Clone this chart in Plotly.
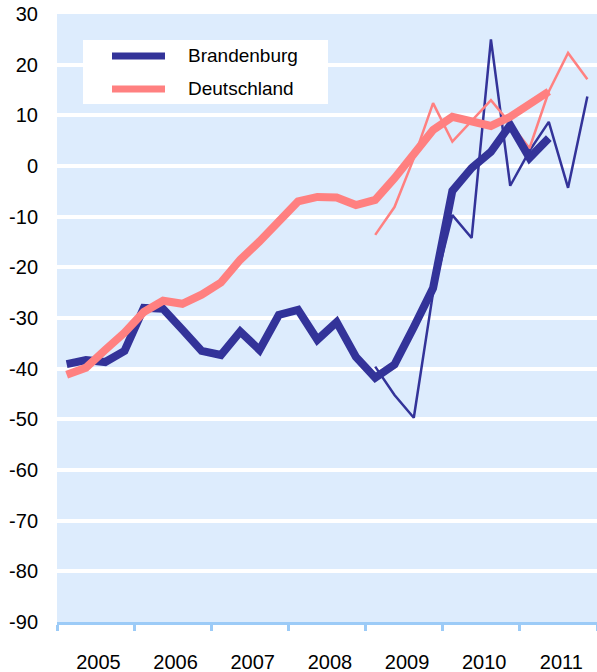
import plotly.graph_objects as go

# Quarterly data 2005Q1 .. 2011Q4 (28 quarters)
years = ["2005", "2006", "2007", "2008", "2009", "2010", "2011"]
quarters = list(range(28))
y_ticks = [-90, -80, -70, -60, -50, -40, -30, -20, -10, 0, 10, 20, 30]
y_tick_labels = ["-90", "-80", "-70", "-60", "-50", "-40", "-30", "-20", "-10",
                 "0", "10", "20", "30"]

brandenburg_trend = [-39.1, -38.3, -38.7, -36.5, -28.0, -28.2, -32.3, -36.5,
                     -37.3, -32.7, -36.3, -29.4, -28.4, -34.3, -30.8, -37.7,
                     -41.8, -39.2, -31.8, -24.1, -4.9, -0.4, 2.8, 8.1,
                     1.6, 5.5, None, None]
brandenburg_raw = [None] * 16 + [-39.6, -45.2, -49.7, -25.0, -9.7, -14.2, 25.0, -3.9,
                                 3.0, 8.7, -4.3, 13.7]
deutschland_trend = [-41.2, -39.8, -36.3, -32.9, -28.8, -26.6, -27.2, -25.4,
                     -23.0, -18.5, -14.9, -10.8, -7.0, -6.1, -6.2, -7.7,
                     -6.7, -2.4, 2.4, 7.1, 9.7, 8.7, 7.9, 9.7,
                     12.0, 14.7, None, None]
deutschland_raw = [None] * 16 + [-13.6, -8.1, 1.5, 12.4, 4.8, 8.8, 13.0, 8.4,
                                  3.5, 14.7, 22.3, 17.1]

series_names = ["Brandenburg", "Deutschland"]

BLUE = "#333399"
PINK = "#FF8080"
BG = "#DDECFD"
AXIS = "#9CCBF7"
FONT = "Liberation Sans, Arial, sans-serif"

fig = go.Figure()
fig.add_trace(go.Scatter(x=quarters, y=brandenburg_raw, mode="lines",
                         line=dict(color=BLUE, width=2.5), showlegend=False,
                         connectgaps=False, hoverinfo="skip"))
fig.add_trace(go.Scatter(x=quarters, y=deutschland_raw, mode="lines",
                         line=dict(color=PINK, width=2.5), showlegend=False,
                         connectgaps=False, hoverinfo="skip"))
fig.add_trace(go.Scatter(x=quarters, y=brandenburg_trend, mode="lines",
                         name=series_names[0],
                         line=dict(color=BLUE, width=8), showlegend=False))
fig.add_trace(go.Scatter(x=quarters, y=deutschland_trend, mode="lines",
                         name=series_names[1],
                         line=dict(color=PINK, width=8), showlegend=False))

year_centers = [4 * i + 1.5 + 0.15 for i in range(len(years))]

fig.update_layout(
    width=597, height=672,
    margin=dict(l=57, r=0, t=14, b=50),
    paper_bgcolor="white",
    plot_bgcolor=BG,
    font=dict(family=FONT, size=20, color="black"),
    xaxis=dict(
        range=[-0.5, 27.5], automargin=False,
        tickmode="array", tickvals=year_centers, ticktext=years,
        ticks="", showgrid=False, zeroline=False,
        showline=True, linecolor=AXIS, linewidth=3,
        tickfont=dict(family=FONT, size=20, color="black"),
        ticklabelstandoff=20,
        minor=dict(tickmode="linear", tick0=-0.5, dtick=4, ticks="outside",
                   ticklen=6, tickwidth=3, tickcolor=AXIS, showgrid=False),
        fixedrange=True,
    ),
    yaxis=dict(
        range=[-90, 30], automargin=False,
        tickmode="array", tickvals=y_ticks, ticktext=y_tick_labels,
        showgrid=True, gridcolor="white", gridwidth=4,
        zeroline=False, showline=False, ticks="",
        tickfont=dict(family=FONT, size=20, color="black"),
        ticklabelstandoff=18,
        fixedrange=True,
    ),
    showlegend=False,
)

# Legend box drawn manually (white box with line samples)
fig.add_shape(type="rect", xref="paper", yref="paper",
              x0=(83 - 57) / 540, x1=(328 - 57) / 540,
              y0=(622 - 104) / 608, y1=(622 - 40) / 608,
              fillcolor="white", line=dict(width=0), layer="above")
for name, color, ypix in [(series_names[0], BLUE, 56), (series_names[1], PINK, 89)]:
    yy = (622 - ypix) / 608
    fig.add_shape(type="line", xref="paper", yref="paper",
                  x0=(112 - 57) / 540, x1=(165 - 57) / 540, y0=yy, y1=yy,
                  line=dict(color=color, width=7), layer="above")
    fig.add_annotation(xref="paper", yref="paper", x=(186 - 57) / 540, y=yy,
                       text=name, showarrow=False, xanchor="left", yanchor="middle",
                       font=dict(family=FONT, size=19, color="black"))

fig.write_html(
    "out.html",
    config={"staticPlot": True},
    post_script="document.body.style.margin='0px';document.body.style.overflow='hidden';",
)
